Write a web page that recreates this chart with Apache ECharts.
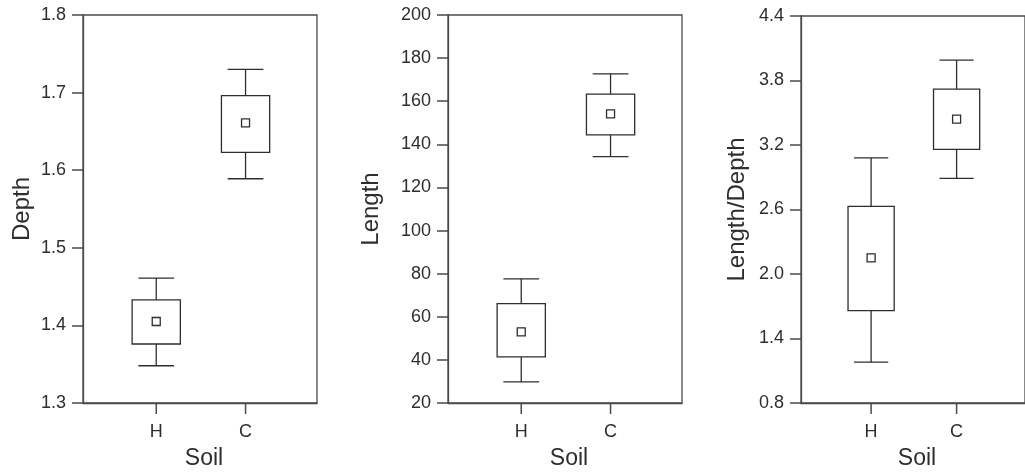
<!DOCTYPE html>
<html>
<head>
<meta charset="utf-8">
<script src="https://cdn.jsdelivr.net/npm/echarts@6/dist/echarts.min.js"></script>
<style>
html,body{margin:0;padding:0;background:#fff;}
#chart{width:1025px;height:475px;}
</style>
</head>
<body>
<div id="chart"></div>
<script>
// ---- data ----
const categories = ['H', 'C'];
const categoryPositions = [1, 2];

const depthWhiskerLow  = [1.348, 1.589];
const depthBoxLow      = [1.376, 1.623];
const depthMean        = [1.405, 1.661];
const depthBoxHigh     = [1.433, 1.696];
const depthWhiskerHigh = [1.461, 1.730];

const lengthWhiskerLow  = [29.8, 134.3];
const lengthBoxLow      = [41.4, 144.4];
const lengthMean        = [53.0, 154.1];
const lengthBoxHigh     = [66.1, 163.3];
const lengthWhiskerHigh = [77.6, 172.7];

const ratioWhiskerLow  = [1.18, 2.89];
const ratioBoxLow      = [1.66, 3.16];
const ratioMean        = [2.15, 3.44];
const ratioBoxHigh     = [2.63, 3.72];
const ratioWhiskerHigh = [3.08, 3.99];

const depthTicks  = [1.3, 1.4, 1.5, 1.6, 1.7, 1.8];
const lengthTicks = [20, 40, 60, 80, 100, 120, 140, 160, 180, 200];
const ratioTicks  = [0.8, 1.4, 2.0, 2.6, 3.2, 3.8, 4.4];

// ---- build ----
function rows(wl, bl, m, bh, wh) {
  return categoryPositions.map((x, i) => [x, wl[i], bl[i], m[i], bh[i], wh[i]]);
}
const LINE = '#2e2e2e';
const AXIS = '#4a4a4a';
const TEXT = '#2e2e2e';
const FONT = 'Liberation Sans, Arial, Helvetica, sans-serif';
const BOX_HALF = 0.27, CAP_HALF = 0.2, MEAN_HALF = 4, TICK_LEN = 11;

function renderItem(params, api) {
  const x = api.value(0);
  const pWL = api.coord([x, api.value(1)]);
  const pBL = api.coord([x, api.value(2)]);
  const pM  = api.coord([x, api.value(3)]);
  const pBH = api.coord([x, api.value(4)]);
  const pWH = api.coord([x, api.value(5)]);
  const bx0 = api.coord([x - BOX_HALF, api.value(2)])[0];
  const bx1 = api.coord([x + BOX_HALF, api.value(2)])[0];
  const cx0 = api.coord([x - CAP_HALF, api.value(1)])[0];
  const cx1 = api.coord([x + CAP_HALF, api.value(1)])[0];
  const cx = pM[0];
  const st = { stroke: LINE, lineWidth: 1.3, fill: null };
  const cs = params.coordSys;
  const yBottom = cs.y + cs.height;
  return {
    type: 'group',
    children: [
      // category tick mark below the x axis
      { type: 'line', shape: { x1: cx, y1: yBottom, x2: cx, y2: yBottom + TICK_LEN },
        style: { stroke: AXIS, lineWidth: 1.5 } },
      { type: 'line', shape: { x1: cx, y1: pWH[1], x2: cx, y2: pBH[1] }, style: st },
      { type: 'line', shape: { x1: cx, y1: pBL[1], x2: cx, y2: pWL[1] }, style: st },
      { type: 'line', shape: { x1: cx0, y1: pWH[1], x2: cx1, y2: pWH[1] }, style: st },
      { type: 'line', shape: { x1: cx0, y1: pWL[1], x2: cx1, y2: pWL[1] }, style: st },
      { type: 'rect', shape: { x: bx0, y: pBH[1], width: bx1 - bx0, height: pBL[1] - pBH[1] },
        style: { stroke: LINE, lineWidth: 1.3, fill: '#fff' } },
      { type: 'rect', shape: { x: cx - MEAN_HALF, y: pM[1] - MEAN_HALF, width: MEAN_HALF * 2, height: MEAN_HALF * 2 },
        style: { stroke: LINE, lineWidth: 1.3, fill: '#fff' } }
    ]
  };
}

const grids = [
  { left: 83, top: 15, width: 234, height: 391 },
  { left: 448, top: 15, width: 234, height: 389 },
  { left: 801, top: 16, width: 234, height: 390 }
];
const yNames = ['Depth', 'Length', 'Length/Depth'];
const yTicks = [depthTicks, lengthTicks, ratioTicks];
const yGaps = [49, 65, 52];
const yDecimals = [1, 0, 1];
const seriesData = [
  rows(depthWhiskerLow, depthBoxLow, depthMean, depthBoxHigh, depthWhiskerHigh),
  rows(lengthWhiskerLow, lengthBoxLow, lengthMean, lengthBoxHigh, lengthWhiskerHigh),
  rows(ratioWhiskerLow, ratioBoxLow, ratioMean, ratioBoxHigh, ratioWhiskerHigh)
];

const option = {
  backgroundColor: '#fff',
  animation: false,
  grid: grids.map(g => Object.assign({ show: true, borderColor: AXIS, borderWidth: 1.3, backgroundColor: 'transparent' }, g)),
  xAxis: grids.map((g, i) => ({
    type: 'value', gridIndex: i, min: 0.18, max: 2.8,
    name: 'Soil', nameLocation: 'middle', nameGap: 44,
    nameTextStyle: { fontSize: 23, color: TEXT, fontFamily: FONT, padding: [0, 0, 0, 8] },
    axisLine: { show: true, lineStyle: { color: AXIS, width: 1.3 } },
    axisTick: { show: false },
    axisLabel: { show: true, customValues: categoryPositions, margin: 20, fontSize: 18, color: TEXT, fontFamily: FONT,
      formatter: v => categories[categoryPositions.indexOf(Math.round(v))] || '' },
    splitLine: { show: false }
  })),
  yAxis: grids.map((g, i) => {
    const t = yTicks[i];
    return {
      type: 'value', gridIndex: i, min: t[0], max: t[t.length - 1],
      interval: Math.round((t[1] - t[0]) * 1000) / 1000,
      name: yNames[i], nameLocation: 'middle', nameGap: yGaps[i],
      nameTextStyle: { fontSize: 24, color: TEXT, fontFamily: FONT },
      axisLine: { show: true, lineStyle: { color: AXIS, width: 1.3 } },
      axisTick: { show: true, inside: false, length: TICK_LEN, lineStyle: { color: AXIS, width: 1.5 } },
      axisLabel: { show: true, customValues: t, margin: 17, fontSize: 18, color: TEXT, fontFamily: FONT,
        formatter: v => Number(v).toFixed(yDecimals[i]) },
      splitLine: { show: false }
    };
  }),
  series: seriesData.map((d, i) => ({
    type: 'custom', xAxisIndex: i, yAxisIndex: i,
    renderItem: renderItem, encode: { x: 0, y: [1, 2, 3, 4, 5] },
    data: d, clip: false
  }))
};

const chart = echarts.init(document.getElementById('chart'), null, { renderer: 'canvas' });
chart.setOption(option);
</script>
</body>
</html>
